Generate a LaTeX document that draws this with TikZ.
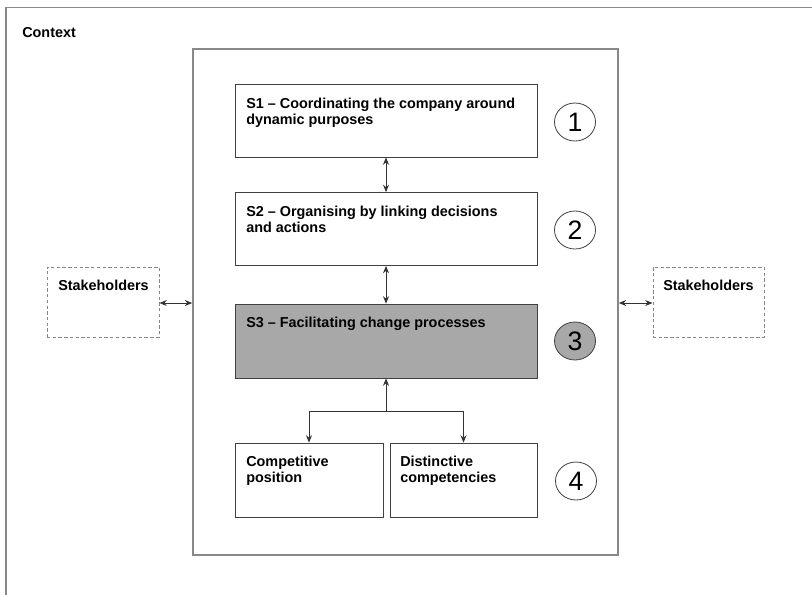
\documentclass[tikz,border=0pt]{standalone}
\usepackage{fontspec}
\setmainfont{Liberation Sans}
\usetikzlibrary{arrows.meta,shapes.geometric}
\definecolor{framegray}{RGB}{136,136,136}
\definecolor{boxline}{RGB}{64,64,64}
\definecolor{shade}{RGB}{168,168,168}
\definecolor{arrowcol}{RGB}{51,51,51}
\tikzset{
  frame/.style={draw=framegray, line width=1.2pt},
  stepbox/.style={draw=boxline, line width=0.6pt, rectangle, inner sep=0pt},
  dashbox/.style={draw=framegray, line width=0.7pt, dash pattern=on 2.5pt off 1.8pt, rectangle, inner sep=0pt},
  lbl/.style={anchor=base west, inner sep=0pt, font=\fontsize{10.8}{12}\selectfont\bfseries},
  num/.style={draw=boxline, line width=0.6pt, ellipse, inner sep=0pt,
    minimum width=30.75pt, minimum height=28.5pt, font=\fontsize{20}{20}\selectfont},
  link/.style={draw=arrowcol, line width=0.75pt},
  tip/.style={-{Stealth[length=5.5pt,width=4.5pt]}},
  tips/.style={{Stealth[length=5.5pt,width=4.5pt]}-{Stealth[length=5.5pt,width=4.5pt]}},
}
\newcommand{\twolines}[2]{\parbox[t]{8cm}{\raggedright #1\\#2}}
\begin{document}
\begin{tikzpicture}[x=0.75pt,y=-0.75pt]
  \useasboundingbox (0,0) rectangle (812,594);
  \clip (0,0) rectangle (812,594);
  \fill[white] (0,0) rectangle (812,594);

  % context frame, running past the lower and right edges
  \draw[frame] (840,7.5) -- (6,7.5) -- (6,620);
  \node[lbl] (ctx) at (22,37) {Context};

  % central frame
  \node[frame, rectangle, inner sep=0pt, minimum width=318.75pt, minimum height=379.5pt] (core) at (405.5,302) {};

  % the three steps
  \node[stepbox, minimum width=226.5pt, minimum height=54.75pt] (s1) at (386,120.5) {};
  \node[stepbox, minimum width=226.5pt, minimum height=54.75pt] (s2) at (386,229) {};
  \node[stepbox, fill=shade, minimum width=226.5pt, minimum height=55.5pt] (s3) at (386,341) {};
  \node[lbl] (t1) at (246,108) {\twolines{S1 -- Coordinating the company around}{dynamic purposes}};
  \node[lbl] (t2) at (246,216) {\twolines{S2 -- Organising by linking decisions}{and actions}};
  \node[lbl] (t3) at (246,327) {S3 -- Facilitating change processes};

  % outcomes
  \node[stepbox, minimum width=111pt, minimum height=55.5pt] (cp) at (309,480) {};
  \node[stepbox, minimum width=110.25pt, minimum height=55.5pt] (dc) at (463.5,480) {};
  \node[lbl] (tcp) at (246,466) {\twolines{Competitive}{position}};
  \node[lbl] (tdc) at (400,466) {\twolines{Distinctive}{competencies}};

  % numbered markers
  \node[num] (n1) at (575,122) {1};
  \node[num] (n2) at (575,230) {2};
  \node[num, fill=shade] (n3) at (575,341) {3};
  \node[num] (n4) at (576,481) {4};

  % stakeholders
  \node[dashbox, minimum width=84pt, minimum height=52.5pt] (shl) at (103,302) {};
  \node[dashbox, minimum width=83.25pt, minimum height=52.5pt] (shr) at (708.5,302) {};
  \node[lbl] (tshl) at (58,290) {Stakeholders};
  \node[lbl] (tshr) at (663,290) {Stakeholders};

  % connectors
  \draw[link, tips] (s1.south) -- (s2.north);
  \draw[link, tips] (s2.south) -- (s3.north);
  \coordinate (fork) at (386,411);
  \draw[link, tip] (fork) -- (s3.south);
  \draw[link, tip] (fork) -| (cp.north);
  \draw[link, tip] (fork) -| (dc.north);
  \draw[link, tips] (shl.east |- 0,303) -- (core.west |- 0,303);
  \draw[link, tips] (core.east |- 0,303) -- (shr.west |- 0,303);
\end{tikzpicture}
\end{document}
